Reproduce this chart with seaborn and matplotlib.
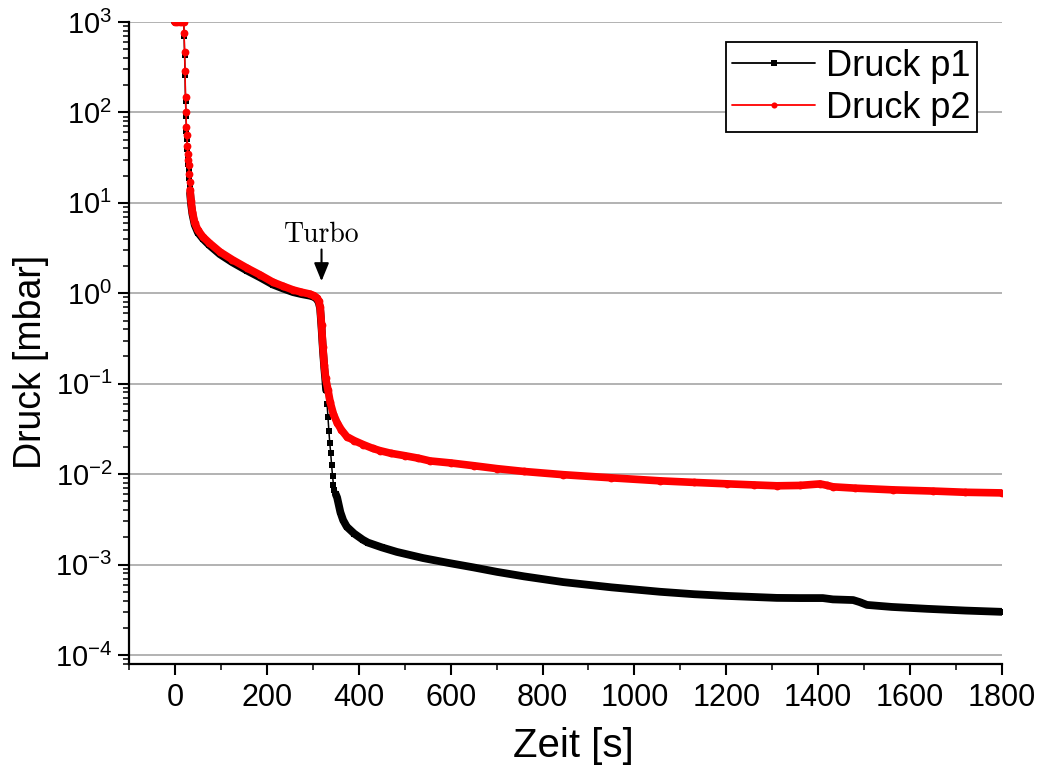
import matplotlib
matplotlib.use("Agg")
import matplotlib.pyplot as plt
from matplotlib.ticker import MultipleLocator, LogLocator, LogFormatterSciNotation, NullFormatter
import seaborn as sns

# Pump-down measurement: pressure of both gauges over time
zeit_p1 = [0, 5, 10, 15, 19, 20, 21, 22, 23, 24, 25, 26, 27, 28, 29, 30, 31, 32, 33,
           35, 38, 43, 50, 61, 75, 98, 125, 157, 185,
           213, 235, 257, 275, 294, 303, 309, 313, 316, 319,
           322, 325, 327, 329, 331, 333, 335, 337, 339, 341,
           343, 345, 347, 350, 353, 360, 366, 374, 390, 409,
           420, 450, 483, 540, 592, 650, 701, 760, 845, 950,
           1056, 1130, 1202, 1260, 1310, 1360, 1410, 1432, 1476, 1490,
           1506, 1560, 1637, 1720, 1800]
druck_p1 = [1000, 1000, 1000, 1000, 1000, 700, 430, 260, 135, 92, 63, 51, 39, 32, 27, 23, 19, 15.5, 12.8,
            9.8, 7.5, 5.7, 4.7, 4.0, 3.4, 2.7, 2.2, 1.78, 1.5,
            1.25, 1.13, 1.03, 0.98, 0.94, 0.91, 0.86, 0.79, 0.68, 0.42,
            0.24, 0.15, 0.115, 0.085, 0.06, 0.043, 0.03, 0.022, 0.017, 0.0125,
            0.0095, 0.0076, 0.0066, 0.006, 0.0055, 0.0038, 0.0031, 0.00262, 0.0022, 0.00188,
            0.00175, 0.00155, 0.00138, 0.00118, 0.00105, 0.00093, 0.00083, 0.00074, 0.00064, 0.00056,
            0.0005, 0.00047, 0.00045, 0.000438, 0.000428, 0.000426, 0.000426, 0.000412, 0.000405, 0.000385,
            0.000358, 0.00034, 0.000324, 0.00031, 0.0003]

zeit_p2 = [0, 5, 10, 15, 19, 20, 21, 22, 23, 24, 25, 26, 27, 28, 29, 30, 31, 32, 33,
           35, 38, 43, 50, 61, 75, 98, 125, 157, 185,
           213, 235, 257, 275, 294, 303, 309, 313, 316, 319,
           322, 325, 328, 333, 338, 345, 353, 362, 374, 390,
           410, 430, 446, 470, 500, 530, 555, 600, 650, 701,
           760, 845, 950, 1056, 1130, 1202, 1260, 1310, 1360, 1404,
           1420, 1432, 1480, 1563, 1650, 1720, 1800]
druck_p2 = [1000, 1000, 1000, 1000, 1000, 759, 468, 288, 148, 100, 69, 56, 42, 35, 30, 26, 21, 17, 13.9,
            10.5, 8.0, 6.0, 5.0, 4.2, 3.6, 2.87, 2.35, 1.9, 1.6,
            1.33, 1.2, 1.09, 1.03, 0.98, 0.94, 0.89, 0.82, 0.71, 0.45,
            0.255, 0.16, 0.115, 0.0857, 0.062, 0.046, 0.037, 0.031, 0.026, 0.0235,
            0.0212, 0.0193, 0.0182, 0.0170, 0.0160, 0.0150, 0.0140, 0.0133, 0.0124, 0.0115,
            0.0107, 0.00986, 0.0091, 0.00843, 0.0081, 0.00781, 0.0076, 0.00743, 0.0075, 0.0078,
            0.0075, 0.00724, 0.0070, 0.0067, 0.0065, 0.0063, 0.0062]

x_ticks = [0, 200, 400, 600, 800, 1000, 1200, 1400, 1600, 1800]
y_ticks = [1e-4, 1e-3, 1e-2, 1e-1, 1e0, 1e1, 1e2, 1e3]
turbo_zeit = 319


def dense_parts(t, p, windows):
    """Slices of a series inside the given time windows (where samples overlap)."""
    for lo, hi in windows:
        idx = [i for i, v in enumerate(t) if lo <= v <= hi]
        yield t[idx[0]:idx[-1] + 1], p[idx[0]:idx[-1] + 1]


sns.set_style("ticks")
plt.rcParams["font.family"] = ["Liberation Sans", "DejaVu Sans"]
plt.rcParams["mathtext.default"] = "regular"
for key in ("text.color", "axes.labelcolor", "xtick.color", "ytick.color", "axes.edgecolor"):
    plt.rcParams[key] = "black"

fig = plt.figure(figsize=(10.37, 7.69), dpi=100)
ax = fig.add_axes([129 / 1037, 105 / 769, 873 / 1037, 642 / 769])
ax.set_yscale("log")

series = [
    (zeit_p1, druck_p1, "black", "s", 5.0, 5.6, "Druck p1", [(0, 19), (33, 329), (350, 1800)]),
    (zeit_p2, druck_p2, "#ff0000", "o", 5.6, 5.5, "Druck p2", [(0, 19), (33, 1800)]),
]
z = 3
for t, p, col, mk, ms, band, name, windows in series:
    # densely sampled stretches merge into a solid band
    for tt, pp in dense_parts(t, p, windows):
        sns.lineplot(x=tt, y=pp, ax=ax, color=col, lw=band, sort=False,
                     solid_capstyle="round", solid_joinstyle="round", zorder=z)
    sns.lineplot(x=t, y=p, ax=ax, color=col, lw=1.1, sort=False, marker=mk,
                 markersize=ms, markeredgewidth=0, label=name, zorder=z + 1)
    z += 2

ax.set_xlim(-100, 1800)
ax.set_ylim(7.95e-5, 1e3)

ax.set_xticks(x_ticks)
ax.xaxis.set_minor_locator(MultipleLocator(100))
ax.set_yticks(y_ticks)
ax.yaxis.set_minor_locator(LogLocator(base=10, subs=range(2, 10), numticks=20))
ax.yaxis.set_major_formatter(LogFormatterSciNotation())
ax.yaxis.set_minor_formatter(NullFormatter())

ax.grid(axis="y", which="major", color="#a6a6a6", lw=1.2)
ax.grid(axis="x", visible=False)
for side in ("top", "right"):
    ax.spines[side].set_visible(False)
for side in ("left", "bottom"):
    ax.spines[side].set_linewidth(1.6)
    ax.spines[side].set_color("black")

ax.tick_params(which="major", direction="out", length=8, width=1.5, color="black",
               labelcolor="black")
ax.tick_params(which="minor", direction="out", length=4.5, width=1.1, color="black")
ax.tick_params(axis="x", which="major", labelsize=22, pad=6)
ax.tick_params(axis="y", which="major", labelsize=21, pad=4)

ax.set_xlabel("Zeit [s]", fontsize=29, color="black")
ax.set_ylabel("Druck [mbar]", fontsize=27, color="black")
ax.xaxis.set_label_coords(0.5086, -0.098)
ax.yaxis.set_label_coords(-0.092, 0.47)

# Turbo pump switched on
ax.annotate("", xy=(turbo_zeit, 1.36), xytext=(turbo_zeit, 3.05),
            arrowprops=dict(arrowstyle="-|>,head_length=1.1,head_width=0.45",
                            color="black", lw=1.5, shrinkA=0, shrinkB=0))
ax.text(turbo_zeit, 3.7, "Turbo", fontsize=20, family="cmr10",
        ha="center", va="baseline", color="black")

leg = ax.legend(loc="upper right", bbox_to_anchor=(0.9714, 0.9688), borderaxespad=0,
                prop={"family": "Liberation Sans", "size": 26}, frameon=True,
                fancybox=False, framealpha=1, edgecolor="black",
                handlelength=2.3, handletextpad=0.3, labelspacing=0.2, borderpad=0.18)
leg.get_frame().set_linewidth(1.3)
for h in leg.legend_handles:
    h.set_markersize(4.4)
    h.set_linewidth(1.3)
for txt in leg.get_texts():
    txt.set_color("black")

fig.savefig("out.png", dpi=100)
